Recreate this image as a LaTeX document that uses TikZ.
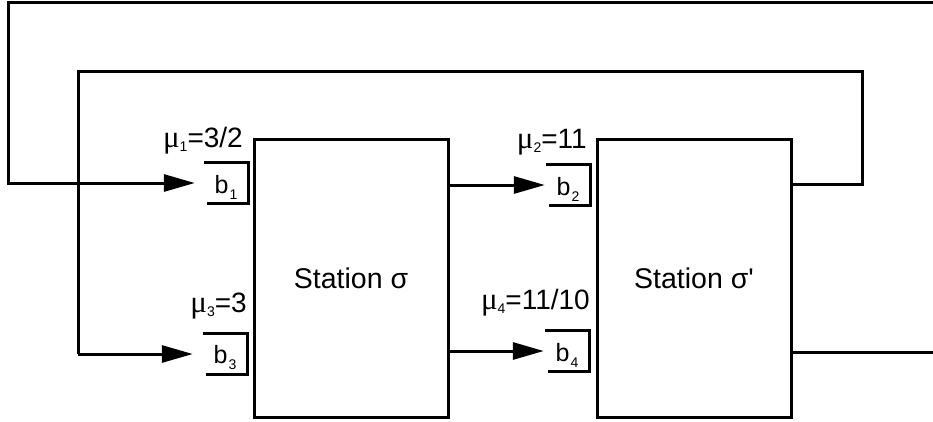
\documentclass[tikz,border=0pt]{standalone}
\usepackage{fontspec}
\setmainfont{Liberation Sans}
\newfontfamily\mufont{Liberation Serif}
\usetikzlibrary{arrows.meta}
\newcommand{\mysub}[1]{\kern1pt\raisebox{-6pt}{\fontsize{14}{14}\selectfont #1}}
\newcommand{\mymu}[1]{{\mufont\fontsize{31}{31}\selectfont μ}\raisebox{-4pt}{\fontsize{14}{14}\selectfont #1}}
\begin{document}
\begin{tikzpicture}[x=1pt,y=-1pt,
  wire/.style={line width=3pt},
  station/.style={draw, line width=3pt, minimum width=194pt, minimum height=278pt, inner sep=0pt, font=\fontsize{28.5}{32}\selectfont},
  buf/.style={minimum width=44pt, minimum height=40pt, inner sep=0pt},
  bufside/.style={line width=3pt},
  flow/.style={line width=3pt, -{Triangle[length=31pt,width=17pt]}},
  mulabel/.style={anchor=base east, inner sep=0pt, font=\fontsize{28}{32}\selectfont},
  blabel/.style={inner sep=0pt, font=\fontsize{25}{28}\selectfont}
]
\useasboundingbox (0,0) rectangle (933,421);

% stations
\node[station] (s1) at (351,278) {Station σ};
\node[station] (s2) at (694,278) {Station σ\textquotesingle};

% buffers
\node[buf] (b1) at (226,183) {};
\node[buf] (b2) at (568,185) {};
\node[buf] (b3) at (225,354) {};
\node[buf] (b4) at (567,351) {};
\foreach \b in {b1,b2,b3,b4}{
  \draw[bufside] (\b.north west) -- (\b.north east) -- (\b.south east) -- ([xshift=3pt]\b.south west);
}
\node[blabel] at ([yshift=-4pt]b1.center) {b\mysub{1}};
\node[blabel] at ([yshift=-4pt]b2.center) {b\mysub{2}};
\node[blabel] at ([yshift=-4pt]b3.center) {b\mysub{3}};
\node[blabel] at ([yshift=-4pt]b4.center) {b\mysub{4}};

% rate labels
\node[mulabel] (m1) at (243,147) {\mymu{1}=3/2};
\node[mulabel] (m2) at (587,148) {\mymu{2}=11};
\node[mulabel] (m3) at (247,312) {\mymu{3}=3};
\node[mulabel] (m4) at (590,309) {\mymu{4}=11/10};

% coordinates for the feedback loops
\coordinate (oR) at (933,2);
\coordinate (oL) at (8,2);
\coordinate (oD) at (8,183);
\coordinate (iR) at (862,184);
\coordinate (iRT) at (862,71);
\coordinate (iLT) at (78,71);
\coordinate (iLB) at (78,354);
\coordinate (out) at (933,352);

% outer loop into b1
\draw[flow] (oR) -- (oL) -- (oD) -- ([xshift=-9pt]b1.west);
% inner loop from station sigma' into b3
\draw[wire] (s2.east |- iR) -- (iR) -- (iRT) -- (iLT) -- (iLB);
\draw[flow] (iLB) -- ([xshift=-10pt]b3.west);
% station sigma to b2, b4
\draw[flow] (s1.east |- b2.west) -- ([xshift=-1pt]b2.west);
\draw[flow] (s1.east |- b4.west) -- ([xshift=-1pt]b4.west);
% output of station sigma'
\draw[wire] (s2.east |- out) -- (out);
\end{tikzpicture}
\end{document}
